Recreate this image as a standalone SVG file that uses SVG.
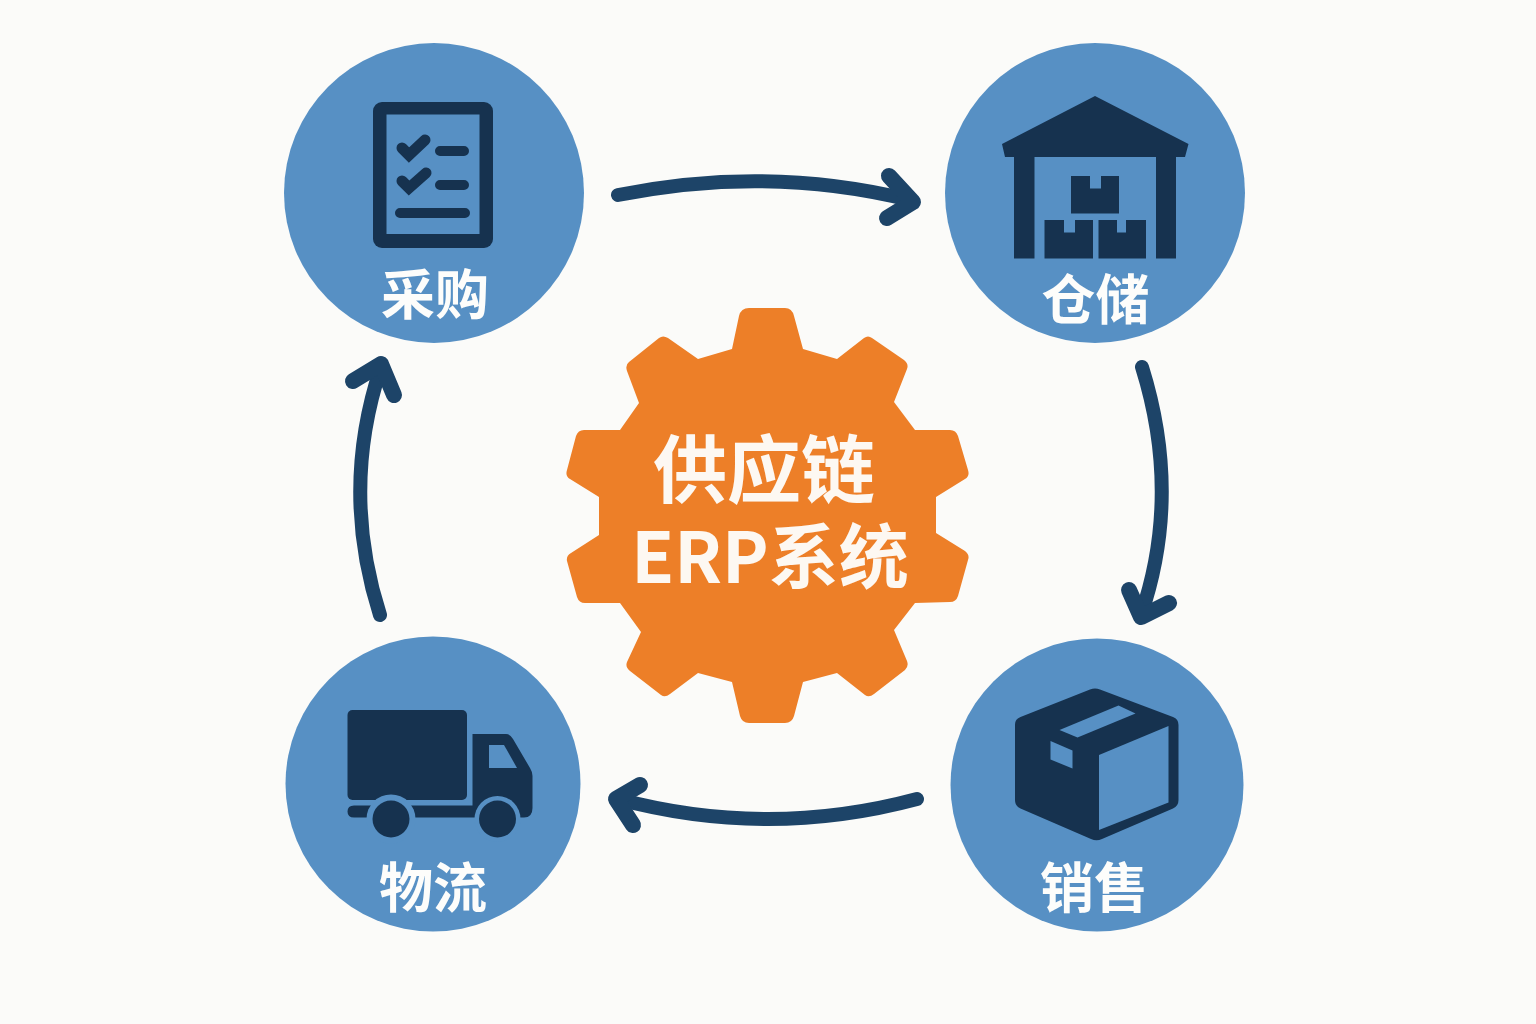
<svg xmlns="http://www.w3.org/2000/svg" width="1536" height="1024" viewBox="0 0 1536 1024">
<style>
.disc{fill:#5790c4}
.ink{fill:#16324f}
.inkline{fill:none;stroke:#16324f;stroke-linecap:round;stroke-linejoin:miter}
.hole{fill:#5790c4}
.label{font-family:"Noto Sans CJK SC","Liberation Sans",sans-serif;font-weight:700;font-size:54px;fill:#fdfdfb;text-anchor:middle}
.title{font-family:"Noto Sans CJK SC","Liberation Sans",sans-serif;font-weight:700;font-size:74px;fill:#fdf8f2;text-anchor:middle}
.line2{font-size:70px}
.arrow{fill:none;stroke:#1d4468;stroke-width:14;stroke-linecap:round;stroke-linejoin:round}
.head{stroke-width:16}
</style>
<rect width="1536" height="1024" fill="#fbfbf9"/>
<g id="connectors">
<g class="arrow"><path d="M618,195Q768,165 910,200"/><path class="head" d="M889,176L913,202L887,218"/></g>
<g class="arrow"><path d="M1142,367Q1182,495 1141,615"/><path class="head" d="M1129,590L1141,617L1169,603"/></g>
<g class="arrow"><path d="M917,799Q768,839 618,799"/><path class="head" d="M640,785L616,799L633,825"/></g>
<g class="arrow"><path d="M380,615Q340,490 381,367"/><path class="head" d="M353,381L381,364L394,395"/></g>
</g>
<g id="gear">
<path fill="#ed7f28" d="M732,349L739,316Q741,308 749,308L785,308Q792,308 794,316L803,349L837,359L864,338Q868,335 872,338L904,360Q909,364 907,369L894,402L915,430L950,430Q956,430 958,436L968,470Q970,476 965,479L936,497L936,533L965,551Q970,555 968,560L958,596Q956,602 950,602L915,603L894,630L907,661Q909,666 905,670L874,694Q869,698 865,695L837,673L803,682L794,716Q792,723 785,723L749,723Q742,723 740,716L732,682L698,673L670,694Q665,698 661,695L630,671Q625,667 627,662L641,632L620,603L585,603Q579,603 577,597L567,561Q566,556 571,553L599,535L599,497L570,479Q565,476 567,470L576,436Q578,430 584,430L620,430L639,403L627,371Q625,365 629,362L659,338Q663,335 668,338L698,359Z"/>
<text class="title"><tspan x="764" y="497">供应链</tspan><tspan class="line2" x="770" y="583">ERP系统</tspan></text>
</g>
<g id="node-purchase">
<circle class="disc" cx="434" cy="193" r="150"/>
<rect class="ink" x="373" y="102" width="120" height="146" rx="9"/>
<rect class="hole" x="386.500" y="114.500" width="93" height="119.500"/>
<path class="inkline" stroke-width="11" d="M402,148L409,155L425,140M402,181L409,188L426,173"/>
<path class="inkline" stroke-width="10" d="M440,151H464M440,185H464M400,213H465"/>
<text class="label" x="435" y="315">采购</text>
</g>
<g id="node-warehouse">
<circle class="disc" cx="1095" cy="193" r="150"/>
<path class="ink" d="M1095,96L1188.500,144L1185,157H1176V258.500H1156V157H1034.500V258.500H1014V157H1005L1002,144Z"/>
<path class="ink" d="M1071,176H1090V188.500H1101V176H1119V213.500H1071Z"/>
<path class="ink" d="M1044.500,220H1064V232.500H1075V220H1093V258.500H1044.500Z"/>
<path class="ink" d="M1098.500,220H1117V232.500H1126V220H1146V258.500H1098.500Z"/>
<text class="label" x="1095.500" y="320">仓储</text>
</g>
<g id="node-logistics">
<circle class="disc" cx="433" cy="784" r="147.500"/>
<rect class="ink" x="347.500" y="710" width="119.500" height="90" rx="5"/>
<path class="ink" d="M472.500,734H506Q510,734 513,739L530,768Q532.500,772 532.500,776V808Q532.500,817.500 524,817.500H354Q347.500,817.500 347.500,811.500Q347.500,805.500 354,805.500H472.500Z"/>
<path class="hole" d="M489,745H504L517,768H489Z"/>
<circle class="hole" cx="391" cy="819" r="24.500"/>
<circle class="hole" cx="497.500" cy="819" r="23"/>
<circle class="ink" cx="391" cy="819" r="18.500"/>
<circle class="ink" cx="497.500" cy="819" r="18.500"/>
<text class="label" x="433" y="908">物流</text>
</g>
<g id="node-sales">
<circle class="disc" cx="1097" cy="785" r="146.500"/>
<path class="ink" d="M1090,689.500Q1095,687.500 1100,689.500L1173,717Q1178.500,719 1178.500,725V800Q1178.500,806 1173,808.500L1102,839Q1096.500,841.500 1091,839L1020.500,808.500Q1015,806 1015,800V725Q1015,719 1020.500,717Z"/>
<path class="hole" d="M1099,755L1168.500,726V802.500L1099,830Z"/>
<path class="hole" d="M1059.500,730L1118.500,705.500L1135.500,713.500L1077.500,737.500Z"/>
<path class="hole" d="M1050.500,741L1072.500,750.500V768.500L1050.500,759.500Z"/>
<text class="label" x="1094" y="908">销售</text>
</g>
</svg>
